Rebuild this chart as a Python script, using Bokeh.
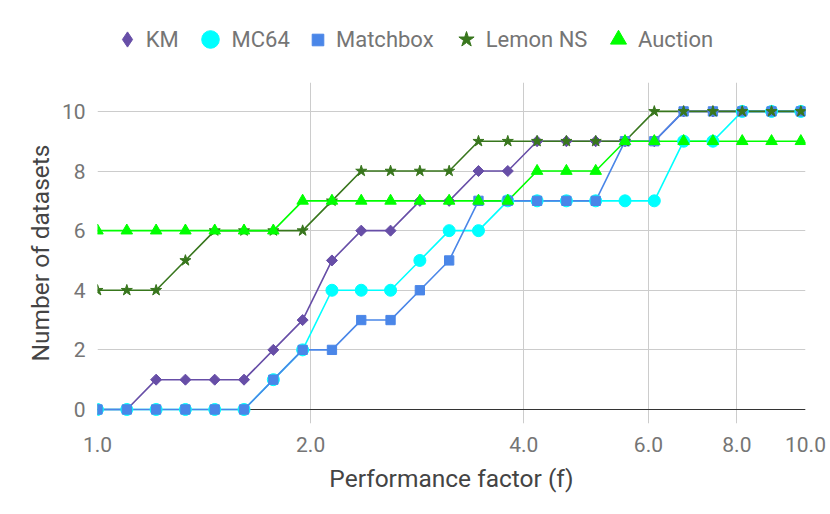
import math
from bokeh.plotting import figure
from bokeh.models import FixedTicker, Span, Legend, LegendItem
from bokeh.layouts import column
from bokeh.embed import file_html
from bokeh.resources import INLINE

factor = [1.0, 1.1, 1.21, 1.331, 1.4641, 1.6105, 1.7716, 1.9487, 2.1436, 2.3579,
          2.5937, 2.8531, 3.1384, 3.4523, 3.7975, 4.1772, 4.595, 5.0545, 5.5599,
          6.1159, 6.7275, 7.4002, 8.1403, 8.9543, 9.8497]
km =       [0, 0, 1, 1, 1, 1, 2, 3, 5, 6, 6, 7, 7, 8, 8, 9, 9, 9, 9, 9, 10, 10, 10, 10, 10]
mc64 =     [0, 0, 0, 0, 0, 0, 1, 2, 4, 4, 4, 5, 6, 6, 7, 7, 7, 7, 7, 7, 9, 9, 10, 10, 10]
matchbox = [0, 0, 0, 0, 0, 0, 1, 2, 2, 3, 3, 4, 5, 7, 7, 7, 7, 7, 9, 9, 10, 10, 10, 10, 10]
lemon =    [4, 4, 4, 5, 6, 6, 6, 6, 7, 8, 8, 8, 8, 9, 9, 9, 9, 9, 9, 10, 10, 10, 10, 10, 10]
auction =  [6, 6, 6, 6, 6, 6, 6, 7, 7, 7, 7, 7, 7, 7, 7, 8, 8, 8, 9, 9, 9, 9, 9, 9, 9]

series_names = ["KM", "MC64", "Matchbox", "Lemon NS", "Auction"]
series_values = [km, mc64, matchbox, lemon, auction]

x_ticks = [1, 2, 4, 6, 8, 10]
x_tick_labels = ["1.0", "2.0", "4.0", "6.0", "8.0", "10.0"]
y_ticks = [0, 2, 4, 6, 8, 10]

# styles: color, chart marker, chart angle, chart size, legend marker,
#         legend glyph box (marker = 0.4*box), legend glyph centre x, label standoff
styles = [
    ("#674ea7", "square", math.pi / 4, 7.8, "diamond", 38, 126.7, -1),
    ("#00ffff", "circle", 0, 12, "circle", 44, 209.5, -2),
    ("#4a86e8", "square", 0, 9.3, "square", 29, 317.5, 4),
    ("#38761d", "star", 0, 11.6, "star", 40, 465.7, -1),
    ("#00ff00", "triangle", 0, 11.5, "triangle", 40, 618.0, -1),
]

FONT = "Roboto"
W = 828
FRAME_LEFT = 97
LEG_H = 82
LEG_CY = 39

# ---- legend strip (separate figure above the chart) ----
lg = figure(width=W, height=LEG_H, x_range=(100, 200), y_range=(100, 200),
            output_backend="svg", toolbar_location=None,
            x_axis_location=None, y_axis_location=None, min_border=0)
lg.outline_line_color = None
lg.xgrid.visible = False
lg.ygrid.visible = False
for name, ys, (color, cm, angle, csize, lm, g, cx, stand) in zip(series_names, series_values, styles):
    r = lg.scatter(factor, ys, marker=lm, size=0.4 * g,
                   fill_color=color, line_color=color)
    leg = Legend(items=[LegendItem(label=name, renderers=[r])], orientation="horizontal",
                 location=(cx - g / 2 - FRAME_LEFT, (LEG_H - LEG_CY) - g / 2),
                 label_text_font=FONT, label_text_font_size="22px", label_text_color="#757575",
                 glyph_width=g, glyph_height=g, label_height=20, label_standoff=stand,
                 spacing=0, padding=0, margin=0, border_line_color=None,
                 background_fill_alpha=0)
    lg.add_layout(leg, "center")

# ---- main chart ----
p = figure(width=W, height=428, x_axis_type="log", x_range=(1, 10), y_range=(-0.47, 10.97),
           output_backend="svg", toolbar_location=None,
           min_border_left=FRAME_LEFT, min_border_right=23, min_border_top=0, min_border_bottom=87)
p.outline_line_color = None
p.background_fill_color = "white"

p.xaxis.ticker = FixedTicker(ticks=x_ticks)
p.xaxis.major_label_overrides = {t: l for t, l in zip(x_ticks, x_tick_labels)}
p.yaxis.ticker = FixedTicker(ticks=y_ticks)
p.xgrid.ticker = FixedTicker(ticks=x_ticks)
p.ygrid.ticker = FixedTicker(ticks=y_ticks)
for gr in (p.xgrid, p.ygrid):
    gr.grid_line_color = "#cccccc"
    gr.grid_line_width = 1

for ax in (p.xaxis, p.yaxis):
    ax.axis_line_color = None
    ax.major_tick_line_color = None
    ax.minor_tick_line_color = None
    ax.major_tick_out = 0
    ax.major_tick_in = 0
    ax.minor_tick_out = 0
    ax.minor_tick_in = 0
    ax.major_label_text_font = FONT
    ax.major_label_text_font_size = "21px"
    ax.major_label_text_color = "#757575"
    ax.axis_label_text_font = FONT
    ax.axis_label_text_font_size = "24.5px"
    ax.axis_label_text_font_style = "normal"
    ax.axis_label_text_color = "#444444"
p.xaxis.major_label_standoff = 13
p.yaxis.major_label_standoff = 12
p.xaxis.axis_label = "Performance factor (f)"
p.yaxis.axis_label = "Number of datasets"
p.xaxis.axis_label_standoff = 9
p.yaxis.axis_label_standoff = 4

base = Span(location=0, dimension="width", line_color="#333333", line_width=1.2, level="underlay")
p.add_layout(base)

for ys, st in zip(series_values, styles):
    p.line(factor, ys, line_color=st[0], line_width=1.6)
for ys, (color, cm, angle, csize, lm, g, cx, stand) in zip(series_values, styles):
    p.scatter(factor, ys, marker=cm, size=csize, angle=angle,
              fill_color=color, line_color=color)

layout = column(lg, p, spacing=0)
open("out.html", "w").write(file_html(layout, INLINE))
